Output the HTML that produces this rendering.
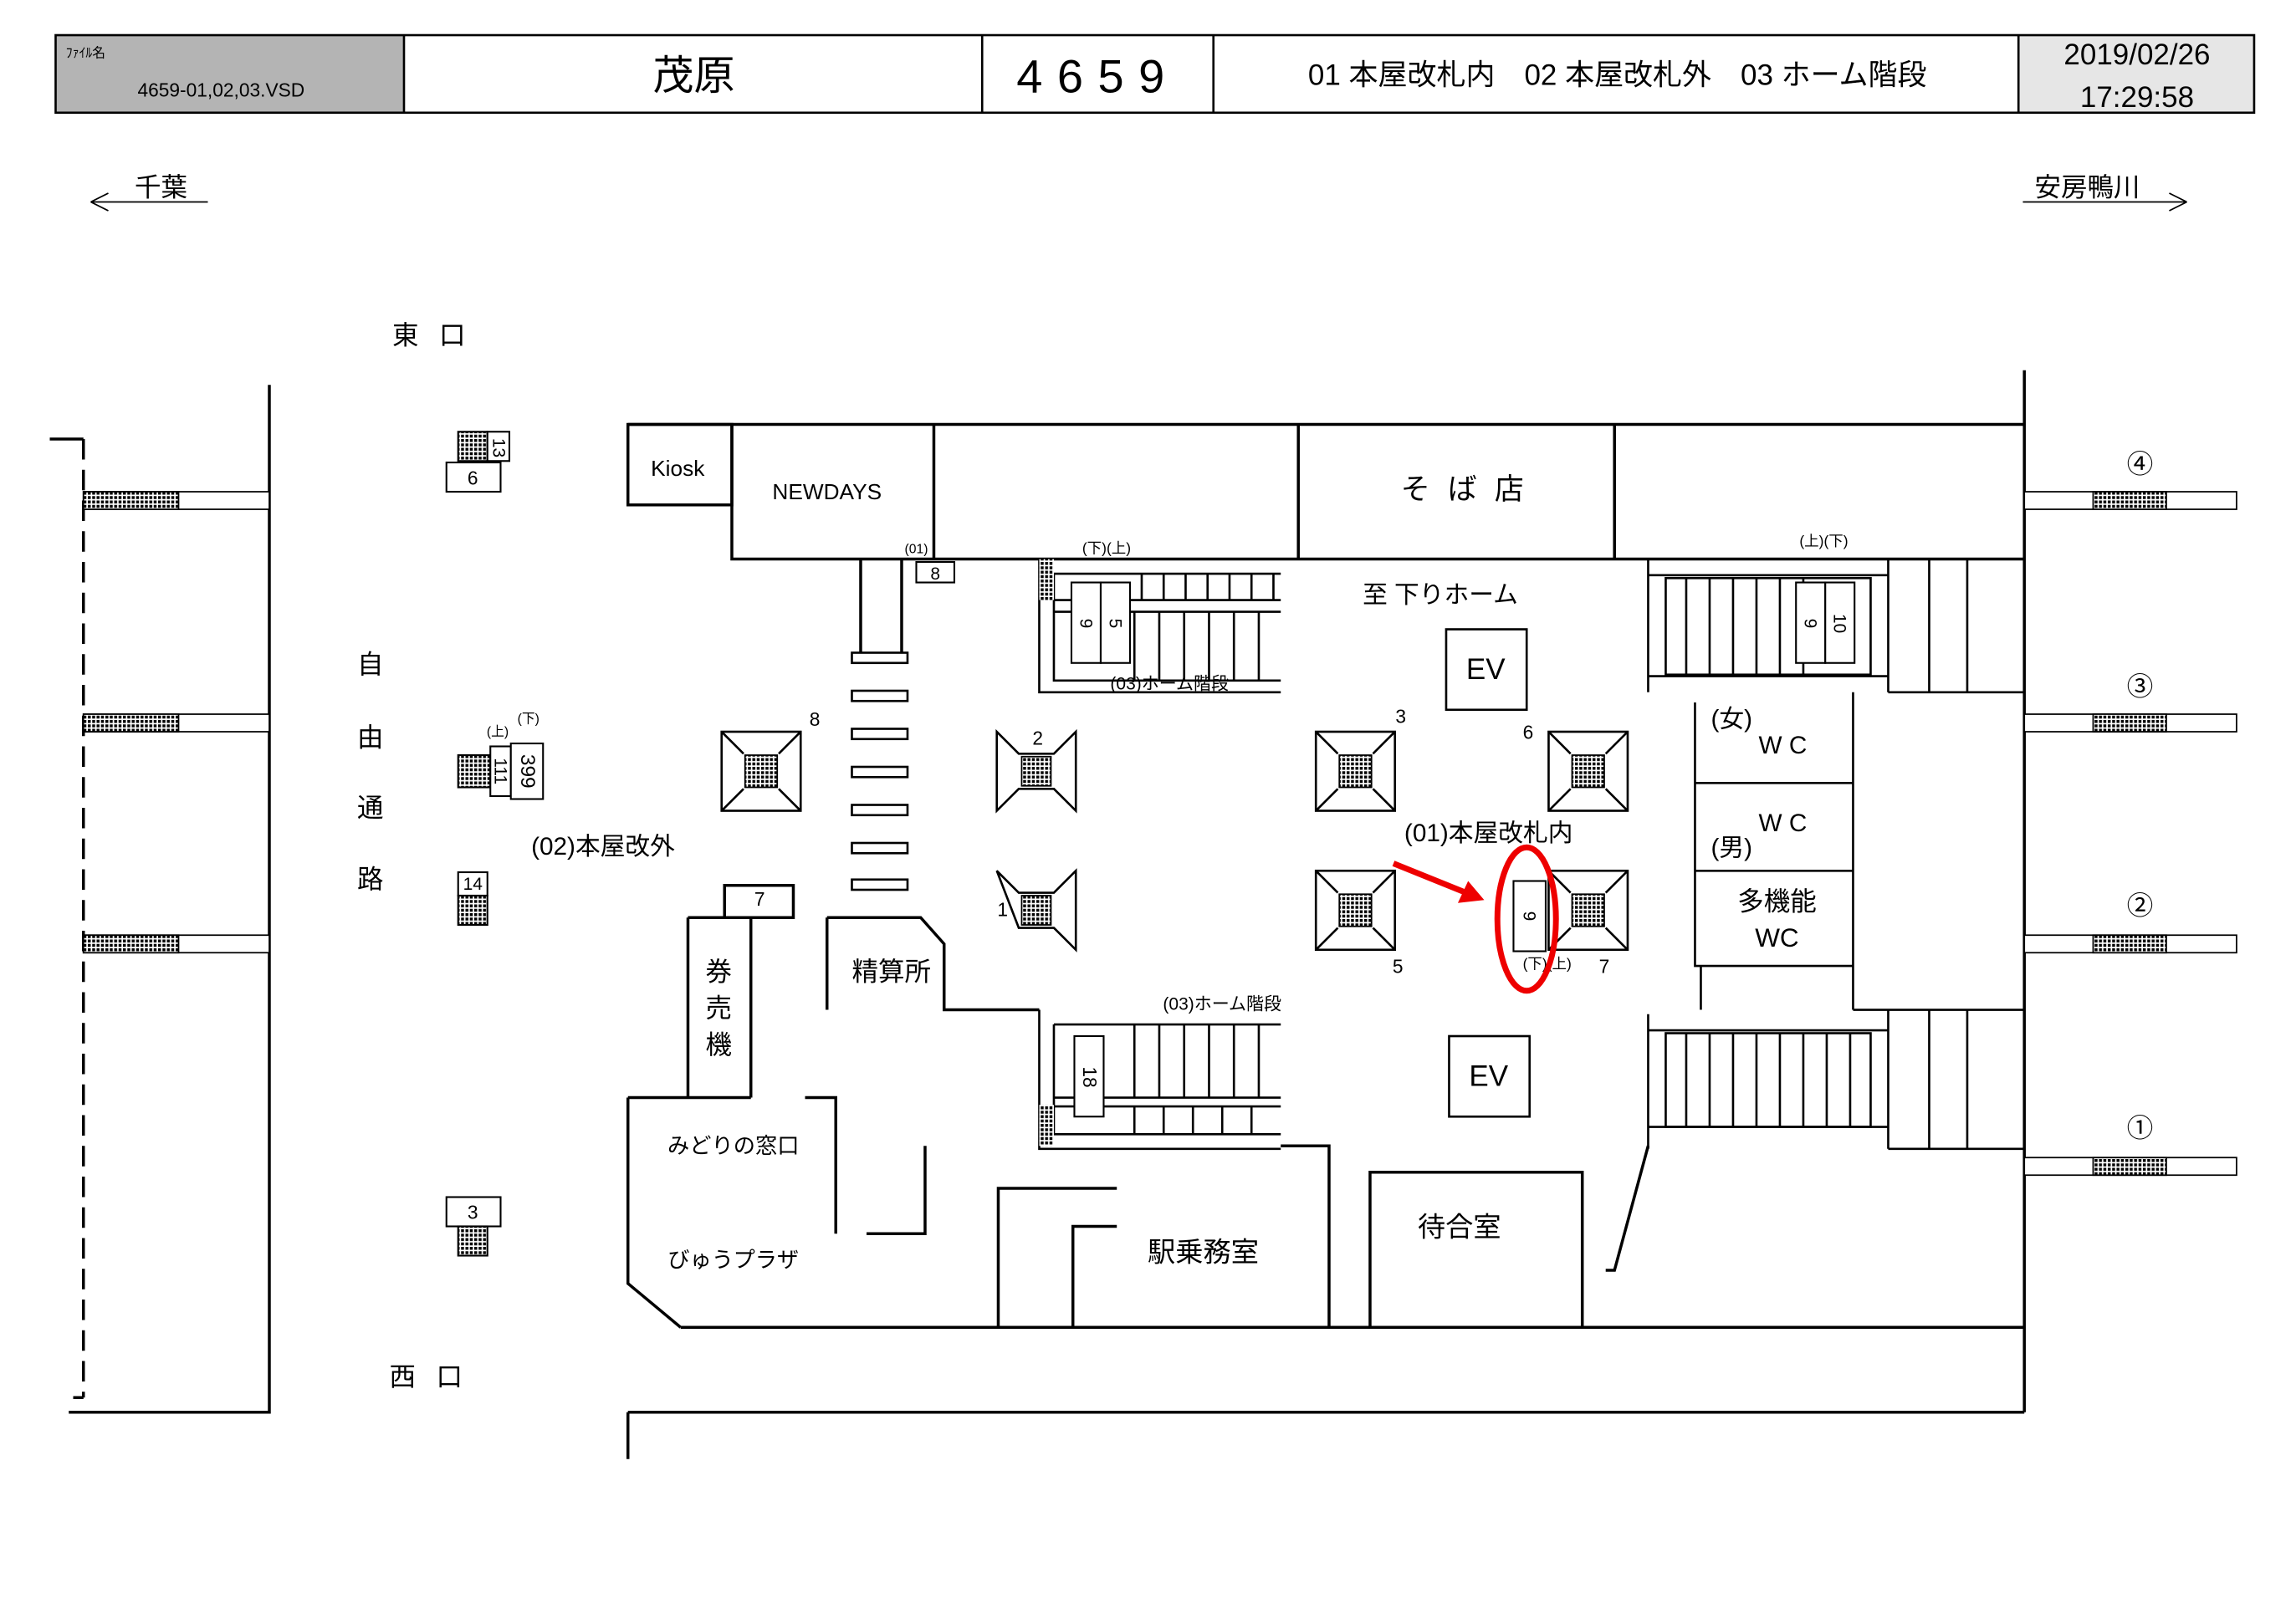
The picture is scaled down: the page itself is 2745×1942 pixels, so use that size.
<!DOCTYPE html>
<html><head><meta charset="utf-8"><style>
html,body{margin:0;padding:0;background:#fff}
svg{display:block}
text{font-family:"Liberation Sans","Noto Sans CJK JP",sans-serif;fill:#000}
</style></head><body>
<svg width="2745" height="1942" viewBox="0 0 1568.6 1109.7" xmlns="http://www.w3.org/2000/svg">
<defs>
<pattern id="h" width="3" height="3" patternUnits="userSpaceOnUse"><rect width="3" height="3" fill="#fff"/><rect width="2" height="2" fill="#000"/></pattern>
<g id="esc">
<rect x="-27" y="-27" width="54" height="54" fill="#fff" stroke="#000" stroke-width="1.5"/>
<path d="M-27,-27 L-12,-12 M27,-27 L12,-12 M-27,27 L-12,12 M27,27 L12,12" stroke="#000" stroke-width="1.5"/>
<rect x="-11" y="-11" width="22" height="22" fill="url(#h)" stroke="#000"/>
</g>
<g id="esc2">
<path d="M-27,-27 L-12,-12 L12,-12 L27,-27 L27,27 L12,12 L-12,12 L-27,27 Z" fill="#fff" stroke="#000" stroke-width="1.5"/>
<rect x="-10" y="-10" width="20" height="20" fill="url(#h)" stroke="#000"/>
</g>
</defs>
<rect width="1568.6" height="1109.7" fill="#fff"/>
<!-- header -->
<rect x="38" y="24" width="238" height="53" fill="#b4b4b4"/>
<rect x="1379" y="24" width="161" height="53" fill="#e6e6e6"/>
<rect x="38" y="24" width="1502" height="53" fill="none" stroke="#000" stroke-width="1.5"/>
<path d="M276,24V77M671,24V77M829,24V77M1379,24V77" stroke="#000" stroke-width="1.5"/>
<text x="45" y="39" font-size="9">ﾌｧｲﾙ名</text>
<text x="94" y="66" font-size="13">4659-01,02,03.VSD</text>
<text x="474" y="61" font-size="28" text-anchor="middle">茂原</text>
<text x="750" y="63" font-size="32" text-anchor="middle" letter-spacing="10">4659</text>
<text x="1105" y="58" font-size="20" text-anchor="middle">01 本屋改札内　02 本屋改札外　03 ホーム階段</text>
<text x="1460" y="44" font-size="20" text-anchor="middle">2019/02/26</text>
<text x="1460" y="73" font-size="20" text-anchor="middle">17:29:58</text>
<!-- direction arrows -->
<path d="M62,138H142M62,138l12,-6M62,138l12,6" stroke="#000" fill="none"/>
<text x="110" y="134" font-size="18" text-anchor="middle">千葉</text>
<path d="M1382,138H1494M1494,138l-12,-6M1494,138l-12,6" stroke="#000" fill="none"/>
<text x="1426" y="134" font-size="18" text-anchor="middle">安房鴨川</text>
<!-- left side -->
<path d="M184,263V965H47M34,300H57" stroke="#000" stroke-width="2" fill="none"/>
<path d="M57,300V955" stroke="#000" stroke-width="2" stroke-dasharray="14,7"/>
<path d="M50,955H57" stroke="#000" stroke-width="2"/>
<g stroke="#000" fill="#fff">
<rect x="57" y="336" width="127" height="12"/><rect x="57" y="336" width="65" height="12" fill="url(#h)"/>
<rect x="57" y="488" width="127" height="12"/><rect x="57" y="488" width="65" height="12" fill="url(#h)"/>
<rect x="57" y="639" width="127" height="12"/><rect x="57" y="639" width="65" height="12" fill="url(#h)"/>
</g>
<text x="300" y="235" font-size="18" text-anchor="middle" letter-spacing="14">東口</text>
<text x="298" y="947" font-size="18" text-anchor="middle" letter-spacing="14">西口</text>
<text x="253" y="460" font-size="18" text-anchor="middle">自</text>
<text x="253" y="510" font-size="18" text-anchor="middle">由</text>
<text x="253" y="558" font-size="18" text-anchor="middle">通</text>
<text x="253" y="607" font-size="18" text-anchor="middle">路</text>
<!-- left items -->
<g stroke="#000" fill="#fff" stroke-width="1.2">
<rect x="313" y="295" width="20" height="20" fill="url(#h)"/><rect x="333" y="295" width="15" height="20"/>
<rect x="305" y="316" width="37" height="20"/>
<rect x="313" y="516" width="22" height="22" fill="url(#h)"/><rect x="335" y="510" width="14" height="34"/><rect x="349" y="508" width="22" height="38"/>
<rect x="313" y="596" width="20" height="16"/><rect x="313" y="612" width="20" height="20" fill="url(#h)"/>
<rect x="305" y="818" width="37" height="20"/><rect x="313" y="838" width="20" height="20" fill="url(#h)"/>
</g>
<text x="341" y="310" font-size="12" text-anchor="middle" transform="rotate(90 341 306)">13</text>
<text x="323" y="331" font-size="13" text-anchor="middle">6</text>
<text x="342" y="531" font-size="12" text-anchor="middle" transform="rotate(90 342 527)">111</text>
<text x="360" y="531" font-size="14" text-anchor="middle" transform="rotate(90 360 527)">399</text>
<text x="340" y="503" font-size="9" text-anchor="middle">(上)</text>
<text x="361" y="494" font-size="9" text-anchor="middle">(下)</text>
<text x="323" y="608" font-size="12" text-anchor="middle">14</text>
<text x="323" y="833" font-size="13" text-anchor="middle">3</text>
<text x="412" y="584" font-size="17" text-anchor="middle">(02)本屋改外</text>
<!-- right side -->
<path d="M1383,253V965" stroke="#000" stroke-width="2"/>
<g stroke="#000" fill="#fff">
<rect x="1383" y="336" width="145" height="12"/><rect x="1430" y="336" width="50" height="12" fill="url(#h)"/>
<rect x="1383" y="488" width="145" height="12"/><rect x="1430" y="488" width="50" height="12" fill="url(#h)"/>
<rect x="1383" y="639" width="145" height="12"/><rect x="1430" y="639" width="50" height="12" fill="url(#h)"/>
<rect x="1383" y="791" width="145" height="12"/><rect x="1430" y="791" width="50" height="12" fill="url(#h)"/>
</g>
<text x="1462" y="323" font-size="18" text-anchor="middle">④</text>
<text x="1462" y="475" font-size="18" text-anchor="middle">③</text>
<text x="1462" y="625" font-size="18" text-anchor="middle">②</text>
<text x="1462" y="777" font-size="18" text-anchor="middle">①</text>
<!-- building top shops -->
<g stroke="#000" stroke-width="2" fill="none">
<path d="M429,290H1383"/>
<rect x="429" y="290" width="71" height="55"/>
<path d="M500,290V382H1383M638,290V382M887,290V382M1103,290V382"/>
<path d="M465,907H1383M429,965H1383M429,965V997"/>
<path d="M429,750V877L465,907"/>
<path d="M429,750H513M550,750H571V843M632,783V843H592"/>
<path d="M470,627V750M513,627V750M470,627H513"/>
<path d="M565,627H629L645,645V690H710"/>
<path d="M565,627V690"/>
<path d="M495,605H542V627H495Z"/>
<path d="M682,907V812H763M733,907V838H763"/>
<path d="M875,783H908V907"/>
<rect x="936" y="801" width="145" height="106"/>
<path d="M1097,868H1103L1126,783"/>
<path d="M588,382V450M616,382V450M588,450H616"/>
</g>
<rect x="626" y="384" width="26" height="14" fill="#fff" stroke="#000" stroke-width="1.2"/>
<text x="639" y="396" font-size="12" text-anchor="middle">8</text>
<text x="626" y="378" font-size="9" text-anchor="middle">(01)</text>
<text x="519" y="619" font-size="13" text-anchor="middle">7</text>
<text x="463" y="325" font-size="15" text-anchor="middle">Kiosk</text>
<text x="565" y="341" font-size="15" text-anchor="middle">NEWDAYS</text>
<text x="1005" y="341" font-size="20" text-anchor="middle" letter-spacing="12">そば店</text>
<text x="984" y="412" font-size="17" text-anchor="middle">至 下りホーム</text>
<text x="491" y="670" font-size="18" text-anchor="middle">券</text>
<text x="491" y="695" font-size="18" text-anchor="middle">売</text>
<text x="491" y="720" font-size="18" text-anchor="middle">機</text>
<text x="609" y="670" font-size="18" text-anchor="middle">精算所</text>
<text x="501" y="788" font-size="15" text-anchor="middle">みどりの窓口</text>
<text x="501" y="866" font-size="15" text-anchor="middle">びゅうプラザ</text>
<text x="822" y="862" font-size="19" text-anchor="middle">駅乗務室</text>
<text x="997" y="845" font-size="19" text-anchor="middle">待合室</text>
<!-- zebra -->
<g fill="#fff" stroke="#000" stroke-width="1.5">
<rect x="582" y="446" width="38" height="7"/><rect x="582" y="472" width="38" height="7"/><rect x="582" y="498" width="38" height="7"/><rect x="582" y="524" width="38" height="7"/><rect x="582" y="550" width="38" height="7"/><rect x="582" y="576" width="38" height="7"/><rect x="582" y="601" width="38" height="7"/>
</g>
<!-- stairs middle -->
<g stroke="#000" fill="none" stroke-width="1.5">
<path d="M710,382V473H875"/>
<path d="M720,392V465H875"/>
<path d="M720,392H875M720,410H875M720,418H875"/>
<path d="M775,418V465M792,418V465M809,418V465M826,418V465M843,418V465M860,418V465M780,392V410M795,392V410M810,392V410M825,392V410M840,392V410M855,392V410M870,392V410"/>
<path d="M710,690V785H875M720,700V775H875M720,700H875M720,750H875M720,756H875"/>
<path d="M775,700V750M792,700V750M809,700V750M826,700V750M843,700V750M860,700V750M775,756V775M795,756V775M815,756V775M835,756V775M855,756V775"/>
</g>
<rect x="710" y="382" width="10" height="28" fill="url(#h)"/>
<rect x="710" y="755" width="10" height="28" fill="url(#h)"/>
<g fill="#fff" stroke="#000" stroke-width="1.2">
<rect x="732" y="398" width="20" height="55"/><rect x="752" y="398" width="20" height="55"/>
<rect x="734" y="708" width="20" height="55"/>
</g>
<text x="742" y="430" font-size="12" text-anchor="middle" transform="rotate(90 742 426)">9</text>
<text x="762" y="430" font-size="12" text-anchor="middle" transform="rotate(90 762 426)">5</text>
<text x="744" y="740" font-size="13" text-anchor="middle" transform="rotate(90 744 736)">18</text>
<text x="756" y="378" font-size="10" text-anchor="middle">(下)(上)</text>
<text x="799" y="471" font-size="12" text-anchor="middle">(03)ホーム階段</text>
<text x="835" y="690" font-size="12" text-anchor="middle">(03)ホーム階段</text>
<!-- stairs right -->
<g stroke="#000" fill="none" stroke-width="1.5">
<path d="M1126,382V393H1290M1126,473V462H1290M1126,393V462"/>
<rect x="1138" y="395" width="140" height="66"/>
<path d="M1152,395V461M1168,395V461M1184,395V461M1200,395V461M1216,395V461M1232,395V461"/>
<path d="M1290,382V473M1318,382V473M1344,382V473M1290,473H1383M1266,473V690"/>
<path d="M1126,693V704H1290M1126,785V770H1290M1126,704V770"/>
<rect x="1138" y="706" width="140" height="64"/>
<path d="M1152,706V770M1168,706V770M1184,706V770M1200,706V770M1216,706V770M1232,706V770M1248,706V770M1264,706V770"/>
<path d="M1290,690V785M1318,690V785M1344,690V785M1266,690H1383M1290,785H1383"/>
<path d="M1158,480V535M1158,535H1266M1158,535V595M1158,595H1266M1158,595V660H1266M1162,660V690"/>
</g>
<g fill="#fff" stroke="#000" stroke-width="1.2">
<rect x="1227" y="398" width="20" height="55"/><rect x="1247" y="398" width="20" height="55"/>
</g>
<text x="1237" y="430" font-size="12" text-anchor="middle" transform="rotate(90 1237 426)">9</text>
<text x="1257" y="430" font-size="12" text-anchor="middle" transform="rotate(90 1257 426)">10</text>
<text x="1246" y="373" font-size="10" text-anchor="middle">(上)(下)</text>
<text x="1183" y="497" font-size="17" text-anchor="middle">(女)</text>
<text x="1218" y="515" font-size="17" text-anchor="middle">W C</text>
<text x="1218" y="568" font-size="17" text-anchor="middle">W C</text>
<text x="1183" y="585" font-size="17" text-anchor="middle">(男)</text>
<text x="1214" y="622" font-size="18" text-anchor="middle">多機能</text>
<text x="1214" y="647" font-size="18" text-anchor="middle">WC</text>
<!-- EV -->
<rect x="988" y="430" width="55" height="55" fill="none" stroke="#000" stroke-width="1.5"/>
<text x="1015" y="464" font-size="20" text-anchor="middle">EV</text>
<rect x="990" y="708" width="55" height="55" fill="none" stroke="#000" stroke-width="1.5"/>
<text x="1017" y="742" font-size="20" text-anchor="middle">EV</text>
<!-- escalators -->
<use href="#esc" x="520" y="527"/>
<use href="#esc2" x="708" y="527"/>
<use href="#esc" x="926" y="527"/>
<use href="#esc" x="1085" y="527"/>
<path d="M681,595 L696,610 L720,610 L735,595 L735,649 L720,634 L696,634 Z" fill="#fff" stroke="#000" stroke-width="1.5"/>
<rect x="698" y="612" width="20" height="20" fill="url(#h)" stroke="#000"/>
<use href="#esc" x="926" y="622"/>
<use href="#esc" x="1085" y="622"/>
<text x="553" y="496" font-size="13">8</text>
<text x="709" y="509" font-size="13" text-anchor="middle">2</text>
<text x="957" y="494" font-size="13" text-anchor="middle">3</text>
<text x="1044" y="505" font-size="13" text-anchor="middle">6</text>
<text x="685" y="626" font-size="13" text-anchor="middle">1</text>
<text x="955" y="665" font-size="13" text-anchor="middle">5</text>
<text x="1096" y="665" font-size="13" text-anchor="middle">7</text>
<text x="1017" y="575" font-size="17" text-anchor="middle">(01)本屋改札内</text>
<!-- highlighted item -->
<rect x="1034" y="602" width="22" height="48" fill="#fff" stroke="#000" stroke-width="1.2"/>
<text x="1045" y="630" font-size="12" text-anchor="middle" transform="rotate(90 1045 626)">9</text>
<text x="1057" y="662" font-size="10" text-anchor="middle">(下)(上)</text>
<ellipse cx="1043" cy="628" rx="20" ry="49" fill="none" stroke="#e00" stroke-width="4"/>
<path d="M952,590L1004,611" stroke="#e00" stroke-width="4"/>
<path d="M1014,615L996,617L1003,602Z" fill="#e00"/>
</svg>
</body></html>
